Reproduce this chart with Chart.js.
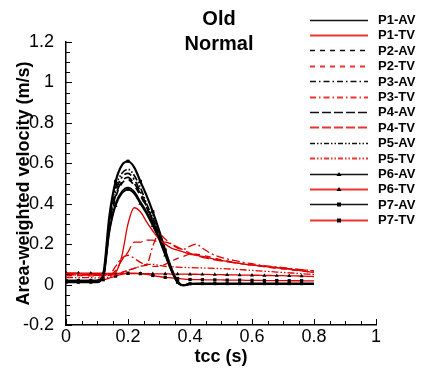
<!DOCTYPE html>
<html>
<head>
<meta charset="utf-8">
<script src="https://cdn.jsdelivr.net/npm/chart.js"></script>
<style>
  body { margin: 0; background: #fff; }
  #wrap { width: 424px; height: 369px; }
</style>
</head>
<body>
<div id="wrap"><canvas id="velocity-chart" width="424" height="369"></canvas></div>
<script>
// time axis (s)
var tcc = [0, 0.02, 0.04, 0.06, 0.08, 0.10, 0.12, 0.14, 0.16, 0.18, 0.20,
  0.22, 0.24, 0.26, 0.28, 0.30, 0.32, 0.34, 0.36, 0.38, 0.40,
  0.42, 0.44, 0.46, 0.48, 0.50, 0.52, 0.54, 0.56, 0.58, 0.60,
  0.62, 0.64, 0.66, 0.68, 0.70, 0.72, 0.74, 0.76, 0.78, 0.80];

var seriesNames = ['P1-AV', 'P1-TV', 'P2-AV', 'P2-TV', 'P3-AV', 'P3-TV', 'P4-AV',
  'P4-TV', 'P5-AV', 'P5-TV', 'P6-AV', 'P6-TV', 'P7-AV', 'P7-TV'];

// aortic valve
var p1AV = [0.02, 0.02, 0.02, 0.02, 0.02, 0.02, 0.04, 0.27, 0.40, 0.46, 0.48,
  0.46, 0.41, 0.36, 0.30, 0.23, 0.15, 0.07, 0.01, -0.003, 0.003,
  0.004, 0.004, 0.004, 0.004, 0.004, 0.004, 0.004, 0.004, 0.004, 0.004,
  0.004, 0.004, 0.004, 0.004, 0.004, 0.004, 0.004, 0.004, 0.004, 0.004];
var p2AV = [0.018, 0.018, 0.018, 0.018, 0.018, 0.018, 0.04, 0.29, 0.43, 0.50, 0.52,
  0.49, 0.44, 0.38, 0.31, 0.24, 0.16, 0.075, 0.012, -0.003, 0.003,
  0.004, 0.004, 0.004, 0.004, 0.004, 0.004, 0.004, 0.004, 0.004, 0.004,
  0.004, 0.004, 0.004, 0.004, 0.004, 0.004, 0.004, 0.004, 0.004, 0.004];
var p3AV = [0.018, 0.018, 0.018, 0.018, 0.018, 0.018, 0.045, 0.31, 0.46, 0.53, 0.55,
  0.52, 0.46, 0.39, 0.32, 0.25, 0.16, 0.077, 0.012, -0.003, 0.003,
  0.004, 0.004, 0.004, 0.004, 0.004, 0.004, 0.004, 0.004, 0.004, 0.004,
  0.004, 0.004, 0.004, 0.004, 0.004, 0.004, 0.004, 0.004, 0.004, 0.004];
var p4AV = [0.018, 0.018, 0.018, 0.018, 0.018, 0.018, 0.04, 0.30, 0.44, 0.51, 0.53,
  0.50, 0.45, 0.385, 0.315, 0.245, 0.16, 0.076, 0.011, -0.003, 0.003,
  0.004, 0.004, 0.004, 0.004, 0.004, 0.004, 0.004, 0.004, 0.004, 0.004,
  0.004, 0.004, 0.004, 0.004, 0.004, 0.004, 0.004, 0.004, 0.004, 0.004];
var p5AV = [0.016, 0.016, 0.016, 0.016, 0.016, 0.016, 0.045, 0.32, 0.48, 0.55, 0.57,
  0.54, 0.48, 0.40, 0.33, 0.255, 0.165, 0.078, 0.012, -0.003, 0.003,
  0.004, 0.004, 0.004, 0.004, 0.004, 0.004, 0.004, 0.004, 0.004, 0.004,
  0.004, 0.004, 0.004, 0.004, 0.004, 0.004, 0.004, 0.004, 0.004, 0.004];
var p6AV = [0.02, 0.02, 0.02, 0.02, 0.02, 0.02, 0.035, 0.26, 0.39, 0.45, 0.47,
  0.45, 0.40, 0.35, 0.29, 0.225, 0.145, 0.068, 0.01, -0.003, 0.003,
  0.004, 0.004, 0.004, 0.004, 0.004, 0.004, 0.004, 0.004, 0.004, 0.004,
  0.004, 0.004, 0.004, 0.004, 0.004, 0.004, 0.004, 0.004, 0.004, 0.004];
var p7AV = [0.012, 0.012, 0.012, 0.012, 0.012, 0.012, 0.05, 0.34, 0.51, 0.59, 0.61,
  0.58, 0.51, 0.44, 0.36, 0.27, 0.17, 0.08, 0.015, -0.004, 0.004,
  0.005, 0.005, 0.005, 0.005, 0.005, 0.005, 0.005, 0.005, 0.005, 0.005,
  0.005, 0.005, 0.005, 0.005, 0.005, 0.005, 0.005, 0.005, 0.005, 0.005];

// tricuspid valve
var p1TV = [0.055, 0.054, 0.053, 0.052, 0.051, 0.05, 0.049, 0.048, 0.06, 0.14, 0.30,
  0.38, 0.36, 0.31, 0.265, 0.225, 0.20, 0.18, 0.17, 0.16, 0.15,
  0.145, 0.14, 0.132, 0.125, 0.12, 0.115, 0.11, 0.105, 0.10, 0.097,
  0.093, 0.09, 0.086, 0.083, 0.08, 0.076, 0.072, 0.068, 0.064, 0.06];
var p2TV = [0.045, 0.045, 0.044, 0.044, 0.043, 0.043, 0.043, 0.045, 0.05, 0.06, 0.07,
  0.08, 0.09, 0.095, 0.09, 0.09, 0.10, 0.115, 0.13, 0.14, 0.15,
  0.15, 0.145, 0.138, 0.13, 0.123, 0.117, 0.11, 0.105, 0.10, 0.096,
  0.092, 0.088, 0.084, 0.08, 0.077, 0.074, 0.07, 0.067, 0.063, 0.06];
var p3TV = [0.05, 0.05, 0.049, 0.049, 0.048, 0.048, 0.047, 0.05, 0.09, 0.13, 0.145,
  0.13, 0.11, 0.10, 0.19, 0.25, 0.225, 0.20, 0.18, 0.175, 0.19,
  0.20, 0.18, 0.16, 0.145, 0.135, 0.127, 0.12, 0.114, 0.108, 0.103,
  0.098, 0.094, 0.09, 0.087, 0.084, 0.08, 0.077, 0.074, 0.071, 0.068];
var p4TV = [0.048, 0.048, 0.047, 0.047, 0.046, 0.046, 0.045, 0.047, 0.07, 0.12, 0.16,
  0.21, 0.21, 0.22, 0.22, 0.21, 0.21, 0.20, 0.185, 0.17, 0.155,
  0.145, 0.135, 0.128, 0.122, 0.117, 0.112, 0.108, 0.104, 0.10, 0.097,
  0.094, 0.091, 0.088, 0.085, 0.082, 0.079, 0.076, 0.073, 0.07, 0.067];
var p5TV = [0.035, 0.035, 0.034, 0.034, 0.034, 0.033, 0.033, 0.038, 0.048, 0.06, 0.07,
  0.08, 0.09, 0.10, 0.10, 0.095, 0.09, 0.088, 0.086, 0.085, 0.084,
  0.083, 0.082, 0.081, 0.08, 0.079, 0.078, 0.076, 0.074, 0.072, 0.07,
  0.068, 0.066, 0.064, 0.062, 0.06, 0.058, 0.056, 0.054, 0.052, 0.05];
var p6TV = [0.058, 0.058, 0.057, 0.057, 0.056, 0.056, 0.056, 0.055, 0.055, 0.055, 0.055,
  0.054, 0.054, 0.054, 0.053, 0.053, 0.053, 0.052, 0.052, 0.052, 0.051,
  0.051, 0.05, 0.05, 0.049, 0.049, 0.048, 0.048, 0.047, 0.047, 0.046,
  0.046, 0.045, 0.045, 0.044, 0.044, 0.043, 0.043, 0.042, 0.041, 0.04];
var p7TV = [0.02, 0.02, 0.02, 0.02, 0.02, 0.021, 0.024, 0.032, 0.042, 0.05, 0.056,
  0.057, 0.054, 0.05, 0.045, 0.04, 0.036, 0.033, 0.03, 0.027, 0.025,
  0.024, 0.024, 0.023, 0.023, 0.023, 0.022, 0.022, 0.022, 0.021, 0.021,
  0.021, 0.02, 0.02, 0.02, 0.02, 0.019, 0.019, 0.019, 0.018, 0.018];

var seriesValues = [p1AV, p1TV, p2AV, p2TV, p3AV, p3TV, p4AV, p4TV, p5AV, p5TV, p6AV, p6TV, p7AV, p7TV];

var BLACK = '#000000';
var RED = '#e00000';
var dashes = [[], [6, 5], [8, 3, 2, 3], [10, 4], [7, 2, 1.5, 2, 1.5, 2], [], []];
var legendDashes = [[], [5, 5], [6, 3, 1.5, 3], [9, 3], [5, 2, 1.5, 2, 1.5, 2], [], []];
var markers = [false, false, false, false, false, 'triangle', 'rect'];

var datasets = seriesValues.map(function (vals, i) {
  var p = Math.floor(i / 2);
  var isAV = i % 2 === 0;
  var mk = markers[p];
  return {
    label: seriesNames[i],
    data: vals.map(function (v, j) { return { x: tcc[j], y: v }; }),
    borderColor: isAV ? BLACK : RED,
    borderWidth: isAV ? (p === 6 ? 2.2 : 1.7) : 1.3,
    borderDash: dashes[p],
    fill: false,
    cubicInterpolationMode: 'monotone',
    pointStyle: mk || 'circle',
    pointBackgroundColor: BLACK,
    pointBorderColor: BLACK,
    pointBorderWidth: 0,
    pointRadius: function (ctx) {
      if (!mk) return 0;
      return (ctx.dataIndex % 2 === 0 && ctx.dataIndex < 40) ? 2.3 : 0;
    },
    pointHoverRadius: 0
  };
});

function tickText(v) {
  return String(Number(v.toFixed(2)));
}

// inward ticks, title block and the line-style legend
var decorations = {
  id: 'decorations',
  afterDraw: function (chart) {
    var ctx = chart.ctx;
    var xs = chart.scales.x, ys = chart.scales.y;
    var area = chart.chartArea;
    ctx.save();
    ctx.strokeStyle = '#000';
    ctx.lineWidth = 1;
    ctx.beginPath();
    for (var k = 0; k <= 20; k++) {
      var px = Math.round(xs.getPixelForValue(k * 0.05)) + 0.5;
      var len = k % 4 === 0 ? 6 : 4;
      ctx.moveTo(px, area.bottom);
      ctx.lineTo(px, area.bottom - len);
    }
    for (var m = 0; m <= 28; m++) {
      var py = Math.round(ys.getPixelForValue(-0.2 + m * 0.05)) + 0.5;
      var l2 = m % 4 === 0 ? 6 : 4;
      ctx.moveTo(area.left, py);
      ctx.lineTo(area.left + l2, py);
    }
    ctx.stroke();

    ctx.fillStyle = '#000';
    ctx.font = 'bold 20px "Liberation Sans", Arial, sans-serif';
    ctx.textAlign = 'center';
    ctx.textBaseline = 'middle';
    ctx.fillText('Old', 219, 19);
    ctx.fillText('Normal', 219, 44);

    ctx.font = 'bold 13px "Liberation Sans", Arial, sans-serif';
    ctx.textAlign = 'left';
    chart.data.datasets.forEach(function (ds, i) {
      var y = 19.5 + i * 15.4;
      var p = Math.floor(i / 2);
      ctx.strokeStyle = i % 2 === 0 ? '#111' : '#e33';
      ctx.lineWidth = i % 2 === 0 ? 1.5 : 2;
      ctx.setLineDash(legendDashes[p]);
      ctx.beginPath();
      ctx.moveTo(310, Math.round(y) + 0.5);
      ctx.lineTo(368, Math.round(y) + 0.5);
      ctx.stroke();
      ctx.setLineDash([]);
      if (markers[p]) {
        ctx.fillStyle = '#000';
        ctx.beginPath();
        if (markers[p] === 'rect') {
          ctx.rect(337, Math.round(y) - 1.5, 4, 4);
        } else {
          ctx.moveTo(339, Math.round(y) - 2);
          ctx.lineTo(341.5, Math.round(y) + 2);
          ctx.lineTo(336.5, Math.round(y) + 2);
          ctx.closePath();
        }
        ctx.fill();
      }
      ctx.fillStyle = '#000';
      ctx.fillText(ds.label, 378, y + 1);
    });
    ctx.restore();
  }
};

var tickFont = { family: '"Liberation Sans", Arial, sans-serif', size: 18 };
var titleFont = { family: '"Liberation Sans", Arial, sans-serif', size: 18, weight: 'bold' };

var velocityChart = new Chart(document.getElementById('velocity-chart'), {
  type: 'line',
  data: { datasets: datasets },
  options: {
    responsive: false,
    animation: false,
    layout: { padding: { top: 42, right: 48, left: 0, bottom: 0 } },
    plugins: {
      legend: { display: false },
      tooltip: { enabled: false }
    },
    scales: {
      x: {
        type: 'linear',
        min: 0,
        max: 1,
        grid: { display: false },
        border: { display: true, color: '#000', width: 1.5 },
        ticks: { stepSize: 0.2, color: '#000', font: tickFont, padding: -7, maxRotation: 0, callback: tickText },
        title: { display: true, text: 'tcc (s)', color: '#000', font: titleFont, padding: { top: 0, bottom: 1 } },
        afterFit: function (scale) { scale.height = 44; }
      },
      y: {
        type: 'linear',
        min: -0.2,
        max: 1.2,
        grid: { display: false },
        border: { display: true, color: '#000', width: 1.5 },
        ticks: { stepSize: 0.2, color: '#000', font: tickFont, padding: 4, callback: tickText },
        title: { display: true, text: 'Area-weighted velocity (m/s)', color: '#000', font: titleFont, padding: { top: 13, bottom: 0 } },
        afterFit: function (scale) { scale.width = 66; }
      }
    }
  },
  plugins: [decorations]
});
</script>
</body>
</html>
